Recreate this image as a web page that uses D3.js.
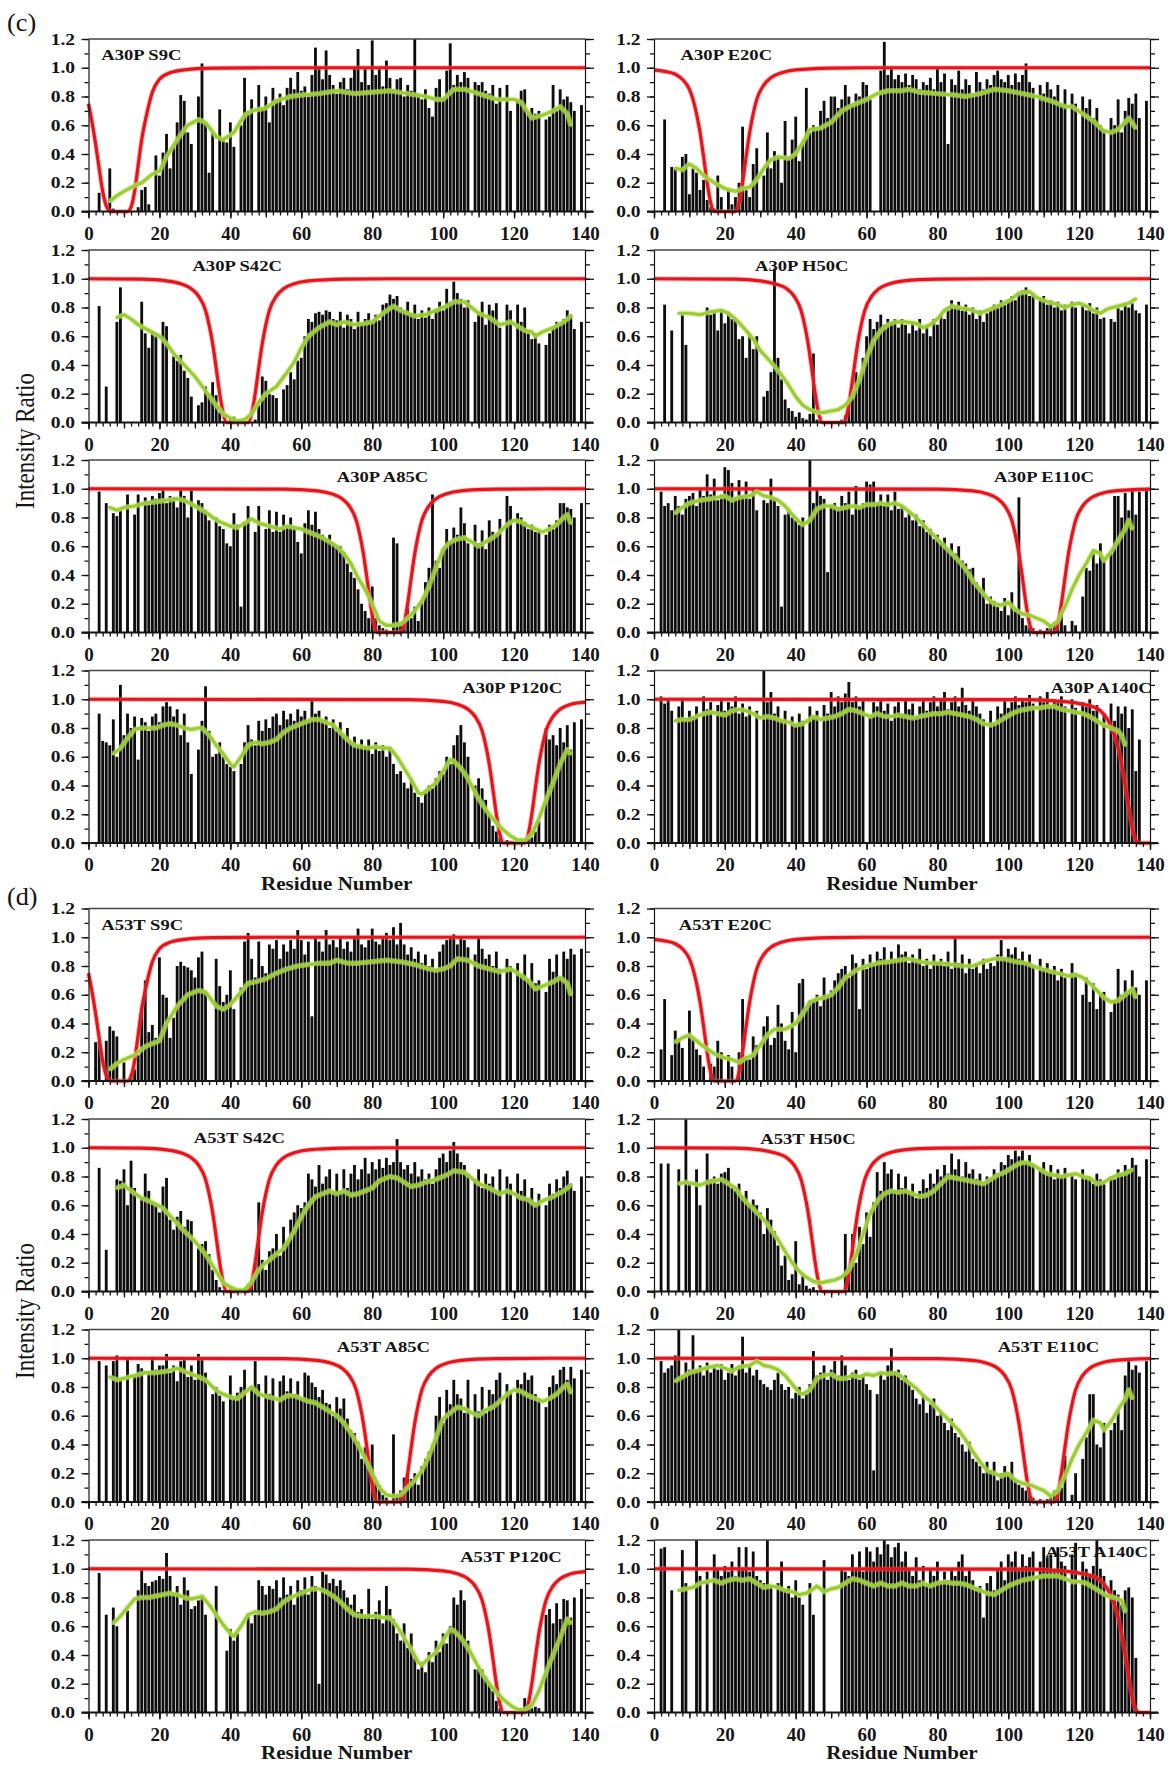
<!DOCTYPE html>
<html><head><meta charset="utf-8">
<script src="https://cdn.jsdelivr.net/npm/d3@7"></script>
<style>
body{margin:0;background:#fff}
svg{display:block;background:#fff}
text{font-family:"Liberation Serif","Times New Roman",serif}
</style>
</head><body>
<svg id="chart" width="1176" height="1765"></svg>
<script>
const N = null;

// ---------- tick labels ----------
const xTickLabels = [0, 20, 40, 60, 80, 100, 120, 140];
const yTickLabels = [0.0, 0.2, 0.4, 0.6, 0.8, 1.0, 1.2];

// ---------- panel titles ----------
const titlesC = ["A30P S9C","A30P E20C","A30P S42C","A30P H50C","A30P A85C","A30P E110C","A30P P120C","A30P A140C"];
const titlesD = ["A53T S9C","A53T E20C","A53T S42C","A53T H50C","A53T A85C","A53T E110C","A53T P120C","A53T A140C"];

// ---------- bar values, residues 1..140 (null = no bar) ----------
const barsA30P_S9C = [
N,N,0.13,N,N,0.30,0.02,N,N,N,
N,N,N,0.03,0.15,0.17,0.05,N,0.39,0.25,
0.41,0.54,0.30,0.45,0.62,0.81,0.77,0.55,0.47,N,
0.80,1.03,0.62,0.27,0.55,N,0.71,0.50,0.48,0.62,
0.45,N,0.60,0.93,0.70,0.78,N,0.88,0.72,0.80,
0.62,0.86,0.78,0.82,0.74,0.86,0.93,0.85,0.97,0.84,
0.87,0.80,0.95,1.14,1.00,0.92,1.12,0.95,0.88,0.82,
0.90,0.93,0.85,0.93,1.00,1.13,0.90,1.00,0.88,1.19,
0.95,1.00,0.87,1.05,0.93,0.85,0.92,0.93,0.80,0.88,
0.84,1.22,0.82,0.78,0.85,0.72,0.66,0.86,0.92,0.78,
0.98,1.17,0.88,0.95,0.90,0.97,0.93,N,0.90,0.88,
0.90,0.84,0.82,0.88,0.75,0.86,N,0.88,0.70,N,
0.78,0.84,0.85,0.68,0.72,0.68,0.70,N,0.64,0.66,
0.88,0.70,0.85,0.78,0.80,0.76,0.70,N,0.74,N];

const barsA30P_E20C = [
N,N,0.64,N,0.31,0.30,N,0.38,0.40,0.12,
0.30,0.27,0.15,0.22,0.08,0.03,0.02,0.25,0.10,N,
0.15,0.05,0.10,0.20,0.59,0.15,0.10,0.33,0.44,N,
0.25,0.55,0.30,0.42,0.38,0.20,0.63,0.38,0.50,0.66,
0.35,0.48,0.86,0.55,0.60,0.58,0.70,0.77,0.65,0.80,
0.80,0.72,0.78,0.88,0.80,0.75,0.82,0.80,0.90,0.88,
0.78,N,N,0.98,1.18,0.95,1.00,0.92,0.95,0.90,
0.96,0.88,0.95,0.92,0.85,0.90,0.88,0.93,0.85,1.00,
0.90,0.96,0.47,0.92,0.88,0.98,0.85,0.92,0.88,0.82,
0.97,0.90,0.85,0.92,0.88,0.95,0.98,0.92,0.90,0.95,
0.88,0.96,0.90,0.95,1.03,0.90,0.86,N,0.88,0.82,
0.90,0.85,0.80,0.88,0.75,0.85,N,0.82,0.75,N,
0.80,0.72,0.78,0.65,0.72,0.60,0.57,N,0.65,0.60,
0.78,0.55,0.70,0.79,0.75,0.82,0.65,N,0.77,N];

const barsA30P_S42C = [
N,N,0.81,N,0.25,N,N,0.70,0.94,N,
N,N,N,N,0.84,0.62,0.52,0.63,0.60,N,
0.70,0.67,N,0.46,0.43,0.47,0.36,0.31,0.18,N,
0.12,0.14,0.25,0.20,0.28,0.19,0.07,0.01,N,0.03,
0.04,N,N,0.01,N,N,0.02,0.12,0.32,0.29,
0.20,0.19,0.17,N,0.23,0.26,0.35,0.30,0.43,0.45,
0.60,0.72,0.70,0.76,0.77,0.75,0.78,0.77,0.72,0.71,
0.77,0.66,0.75,0.72,0.65,0.77,0.68,0.72,0.76,0.70,
0.75,0.71,0.82,0.83,0.89,0.86,0.88,0.80,0.78,0.84,
0.76,0.82,0.72,0.78,0.73,0.80,0.72,0.79,0.84,0.78,
0.93,0.84,0.98,0.90,0.86,0.80,0.85,N,0.70,0.77,
0.84,0.68,0.82,0.78,0.83,0.66,N,0.82,0.78,N,
0.82,0.70,0.80,0.62,0.58,0.62,0.55,N,0.54,0.62,
0.66,0.70,0.68,0.72,0.78,0.75,0.65,N,0.70,N];

const barsA30P_H50C = [
N,N,0.82,N,0.64,N,N,0.75,0.54,N,
N,N,N,N,0.80,0.75,0.78,0.64,0.79,0.69,
0.77,0.72,0.72,0.58,0.60,0.45,0.62,0.51,0.60,N,
0.18,0.22,0.35,1.07,0.45,0.30,0.16,0.10,0.08,0.04,
0.07,0.03,0.02,0.06,0.48,0.02,0.01,0.01,0.01,N,
0.01,0.01,0.02,0.05,0.12,0.20,0.35,0.30,0.45,0.60,
0.72,0.65,0.70,0.75,0.68,0.72,0.70,0.72,0.66,0.72,
0.68,0.62,0.70,0.64,0.72,0.62,0.68,0.60,0.72,0.68,
0.75,0.72,0.78,0.85,0.80,0.84,0.78,0.82,0.75,0.80,
0.72,0.78,0.70,0.76,0.78,0.82,0.80,0.85,0.82,0.84,
0.88,0.85,0.90,0.92,0.94,0.88,0.90,N,0.85,0.88,
0.82,0.85,0.80,0.84,0.78,0.82,N,0.84,0.80,N,
0.82,0.78,0.83,0.76,0.80,0.72,0.73,N,0.72,0.70,
0.80,0.78,0.82,0.80,0.83,0.78,0.76,N,0.82,N];

const barsA30P_A85C = [
N,N,0.98,N,0.90,N,0.83,0.81,0.85,N,
0.96,N,0.82,0.96,N,0.94,0.89,0.95,0.93,0.97,
0.99,0.90,0.95,0.94,0.87,0.99,0.95,0.80,0.99,N,
0.92,0.90,0.85,0.78,N,0.80,0.74,0.72,0.62,0.60,
0.83,0.75,0.18,0.77,0.88,N,0.70,0.88,N,0.72,
0.85,0.70,0.84,0.70,0.82,0.73,0.80,0.72,0.63,0.55,
0.76,0.85,0.75,0.84,0.72,0.68,0.65,0.68,0.62,0.59,
0.60,0.56,0.48,0.42,0.38,0.30,0.20,0.15,0.10,0.32,
0.10,0.05,0.03,0.02,N,0.66,0.62,0.05,0.08,0.17,
0.10,0.18,0.08,0.22,0.35,0.45,0.96,0.50,0.45,0.58,
0.72,0.63,0.73,0.68,0.87,0.76,0.62,N,0.75,0.62,
0.71,0.58,0.78,0.70,0.68,0.79,N,0.95,0.88,N,
0.83,0.80,0.77,0.72,0.75,0.70,0.70,N,0.68,0.75,
0.72,0.78,0.90,0.90,0.87,0.86,0.80,N,0.90,N];

const barsA30P_E110C = [
N,0.98,0.88,0.90,0.85,0.95,0.88,0.82,0.93,0.95,
0.97,0.88,1.00,0.95,1.10,0.96,1.07,0.92,0.96,1.15,
1.13,1.04,0.94,1.06,0.95,1.05,0.93,1.00,0.85,N,
0.92,0.90,1.07,0.93,0.88,0.18,0.82,0.85,0.80,0.78,
0.75,0.80,N,1.20,0.90,1.00,0.95,0.93,0.42,0.88,
0.90,0.85,0.95,0.90,0.98,0.82,1.02,0.88,0.90,1.05,
1.03,1.05,0.90,0.96,0.88,0.96,0.85,0.98,0.86,0.88,
0.80,0.84,0.78,0.82,0.74,0.78,0.70,0.72,0.65,0.68,
0.62,0.66,0.58,0.62,0.55,0.60,0.50,0.48,0.44,0.45,
0.35,0.30,0.38,0.20,0.25,0.22,0.18,0.15,0.24,0.12,
0.28,0.15,0.94,0.10,0.05,0.04,0.03,N,0.02,N,
0.03,0.05,0.06,0.04,0.20,0.05,N,0.08,0.05,N,
0.25,0.45,0.43,0.55,0.48,0.62,0.50,N,0.55,0.95,
0.95,0.80,0.97,0.85,1.00,0.82,0.98,N,1.00,N];

const barsA30P_P120C = [
N,N,0.90,0.71,0.70,0.68,0.86,0.60,1.10,0.75,
0.90,0.80,0.88,0.58,0.87,0.84,0.78,0.88,0.90,0.84,
0.95,0.98,0.95,0.88,0.93,0.75,0.90,0.70,0.48,N,
0.65,0.85,1.09,0.78,0.60,0.62,0.70,0.60,0.55,0.53,
0.50,N,0.55,0.70,0.82,0.72,0.68,0.85,0.78,0.86,
0.80,0.88,0.90,0.82,0.92,0.86,0.90,0.85,0.93,0.88,
0.92,0.84,0.99,0.90,0.92,0.85,0.88,0.80,0.86,0.78,
0.84,0.75,0.80,0.70,0.74,0.68,0.72,0.66,0.72,0.62,
0.70,0.64,0.68,0.60,0.66,0.55,0.48,0.50,0.42,0.38,
0.45,0.35,0.32,0.28,0.35,0.40,0.38,0.45,0.50,0.48,
0.60,0.55,0.68,0.75,0.82,0.70,0.60,N,0.40,0.45,
0.38,0.30,0.20,0.12,0.08,0.04,N,0.02,0.01,N,
0.01,0.03,0.02,0.05,0.04,0.08,0.15,N,0.80,0.72,
0.75,0.68,0.80,0.70,0.82,0.65,0.84,N,0.86,N];

const barsA30P_A140C = [
N,1.02,0.97,1.00,0.92,N,0.95,1.01,0.85,0.92,
0.88,0.95,N,1.02,0.93,0.98,N,0.96,1.00,0.92,
0.98,0.95,1.02,0.90,0.97,0.88,0.95,N,0.92,N,
1.20,0.98,1.05,0.90,0.95,0.85,0.92,N,0.88,0.82,
0.90,0.85,N,0.95,0.88,0.92,N,0.96,0.90,1.05,
0.95,1.02,0.98,1.04,1.12,0.98,1.02,0.95,1.00,N,
0.88,0.98,0.95,1.00,0.92,0.97,0.85,0.95,0.98,0.90,
1.00,0.93,0.97,0.88,0.95,1.00,0.92,0.98,1.02,0.95,
0.99,1.05,0.93,0.98,1.02,0.95,1.08,0.96,0.92,1.00,
0.95,0.90,0.86,N,0.92,0.82,0.95,0.90,1.00,0.94,
0.98,1.02,0.96,1.00,0.98,1.03,0.97,N,1.02,0.98,
1.05,0.96,1.00,0.98,1.02,0.95,N,1.00,0.94,N,
0.98,0.95,1.00,0.92,0.96,N,0.90,N,0.97,0.85,
0.95,0.90,0.95,0.80,0.93,0.50,0.72,N,N,N];

const barsA53T_S9C = [
N,0.27,0.28,N,0.28,0.38,0.35,0.31,N,0.13,
N,0.05,0.08,0.18,0.48,0.70,0.34,0.39,0.30,0.86,
0.60,0.58,0.30,0.44,0.80,0.83,0.80,0.79,0.77,0.72,
0.86,0.90,0.62,N,N,0.85,0.66,0.55,0.60,0.77,
0.50,N,0.65,0.97,1.03,0.85,0.72,0.97,0.80,0.75,
0.95,0.92,0.98,0.85,0.95,0.90,0.98,0.92,1.05,0.98,
0.88,0.97,0.45,1.00,0.97,0.90,1.05,0.95,0.98,0.93,
1.00,0.92,0.97,0.90,1.00,1.06,0.95,0.93,0.98,1.06,
0.97,0.95,1.00,1.03,0.98,1.07,0.95,1.10,0.95,0.88,
0.93,0.85,0.90,0.82,0.88,0.80,0.85,0.78,0.90,0.95,
0.98,1.00,1.02,0.95,1.00,0.98,0.93,N,0.88,1.00,
0.92,0.85,0.88,0.80,0.90,0.78,N,0.85,0.80,N,
0.82,0.73,0.88,0.70,0.82,0.68,0.70,N,0.62,0.85,
0.76,0.88,0.72,0.90,0.85,0.92,0.88,N,0.92,N];

const barsA53T_E20C = [
N,0.22,0.57,N,0.18,0.35,0.28,0.23,N,0.49,
0.30,0.22,0.18,0.10,N,0.12,0.10,0.28,0.20,N,
0.18,0.10,N,0.20,0.57,0.17,0.15,0.31,0.25,N,
0.38,0.45,0.25,0.30,0.53,0.40,0.28,0.22,0.48,0.20,
0.68,0.71,0.50,0.56,0.55,0.60,0.52,0.72,0.60,0.63,
0.70,0.75,0.78,0.80,0.72,0.88,0.82,0.50,0.85,0.78,
0.88,0.82,0.90,0.85,0.93,0.82,0.90,0.85,0.95,0.88,
0.90,0.82,0.88,0.85,0.92,0.80,0.85,0.78,0.88,0.82,
0.85,0.80,0.90,0.78,1.00,0.82,0.88,0.75,0.85,0.78,
0.82,0.75,0.85,0.78,0.82,0.80,0.88,0.98,0.85,0.92,
0.88,0.93,0.85,0.90,0.82,0.88,0.80,N,0.85,0.78,
0.82,0.75,0.80,0.70,0.78,0.72,N,0.82,0.75,N,
0.60,0.72,0.55,0.68,0.50,0.60,0.62,N,0.48,0.55,
0.78,0.60,0.70,0.62,0.77,0.65,0.60,N,0.70,N];

const barsA53T_S42C = [
N,N,0.86,N,0.29,N,N,0.78,0.77,0.85,
0.60,0.91,0.72,N,0.65,0.82,0.70,0.62,0.60,0.55,
0.73,0.79,0.50,0.43,0.52,0.56,0.45,0.50,0.49,N,
0.30,0.33,0.35,0.26,0.15,0.08,0.03,0.01,N,0.02,
0.01,N,N,0.02,0.05,0.08,0.20,0.62,0.22,0.15,
0.28,0.30,0.40,0.25,0.45,0.35,0.50,0.55,0.60,0.58,
0.62,0.82,0.78,0.73,0.88,0.75,0.80,0.85,0.68,0.82,
0.70,0.85,0.72,0.82,0.88,0.78,0.85,0.93,0.82,0.90,
0.85,0.92,0.86,0.93,0.88,0.90,1.06,0.90,0.85,0.88,
0.82,0.90,0.80,0.85,0.78,0.82,0.75,0.85,0.93,0.96,
0.90,0.98,1.04,0.96,0.90,0.88,0.82,N,0.78,0.85,
0.72,0.82,0.75,0.80,0.70,0.85,N,0.80,0.75,N,
0.82,0.70,0.78,0.65,0.72,0.62,0.68,N,0.60,0.75,
0.68,0.78,0.72,0.80,0.84,0.75,0.70,N,0.80,N];

const barsA53T_H50C = [
N,0.89,N,0.89,N,N,0.85,N,1.20,0.75,
N,0.85,0.60,N,0.96,0.78,0.80,0.75,0.82,0.83,
0.86,0.72,0.70,0.75,0.66,0.70,0.60,0.64,0.60,0.55,
0.40,0.58,0.50,0.42,0.32,0.18,0.25,0.08,0.12,0.35,
0.05,0.12,0.04,0.02,0.03,0.01,0.01,0.01,0.01,N,
0.01,0.01,0.01,0.40,0.10,0.40,0.20,0.45,0.33,0.55,
0.38,0.62,0.83,0.70,0.90,0.82,0.85,0.70,0.82,0.72,
0.80,0.68,0.75,0.65,0.70,0.78,0.72,0.82,0.75,0.85,
0.80,0.88,0.82,0.96,0.85,0.92,0.80,0.90,0.82,0.85,
0.78,0.82,0.75,0.80,0.78,0.85,0.82,0.90,0.88,0.95,
0.92,0.98,0.94,0.98,0.90,0.95,0.88,N,0.85,0.90,
0.82,0.88,0.78,0.85,0.80,0.86,N,0.82,0.78,N,
0.85,0.80,0.78,0.75,0.82,0.78,0.75,N,0.80,0.78,
0.85,0.82,0.88,0.85,0.93,0.88,0.80,N,0.92,N];

const barsA53T_A85C = [
N,N,0.98,N,0.95,N,0.98,1.02,0.85,N,
1.00,N,0.88,0.96,0.93,N,0.90,1.00,0.92,0.95,
0.95,1.03,0.90,0.95,0.84,0.98,1.00,0.87,0.95,0.85,
1.03,1.00,0.90,N,0.75,0.80,0.74,0.70,N,0.88,
0.72,0.76,0.80,0.92,N,0.80,0.98,0.82,N,0.88,
0.75,0.86,N,0.84,0.88,0.77,0.86,0.75,0.84,0.72,
0.90,0.88,0.83,0.80,0.73,0.78,0.69,0.68,0.60,0.73,
0.65,0.72,0.58,0.50,0.48,0.42,0.30,0.38,0.24,0.40,
0.15,0.12,0.05,0.03,N,0.47,0.05,0.08,0.17,0.19,
0.16,0.20,0.12,0.25,0.30,0.35,0.40,0.60,0.73,0.55,
0.78,0.68,0.85,0.75,0.72,0.62,0.85,N,0.75,0.63,
0.80,0.62,0.78,0.75,0.85,0.90,N,0.82,0.76,N,
0.85,0.82,0.90,0.85,0.88,0.75,0.72,N,0.66,0.80,
0.88,0.82,0.92,0.94,0.85,0.94,0.86,N,0.92,N];

const barsA53T_E110C = [
N,0.98,0.90,0.93,0.95,1.02,1.20,0.88,0.97,0.92,
1.16,0.92,0.95,0.88,0.97,0.90,0.95,0.92,0.96,0.85,
0.90,0.96,0.88,0.93,1.15,0.90,0.95,0.88,0.92,0.85,
0.82,0.80,0.78,0.85,0.90,0.82,0.78,0.80,0.72,0.76,
0.80,0.72,0.75,0.82,1.05,0.88,0.90,0.95,0.85,0.92,
0.98,0.88,1.02,0.95,0.85,0.90,0.92,0.85,0.88,0.82,
0.78,0.22,0.75,0.90,0.85,0.95,1.07,0.90,0.92,0.85,
0.88,0.82,0.78,0.72,0.68,0.75,0.62,0.68,0.72,0.60,
0.62,0.55,0.50,0.58,0.48,0.45,0.40,0.35,0.42,0.30,
0.28,0.25,0.20,0.28,0.22,0.28,0.15,0.20,0.25,0.18,
0.28,0.15,0.12,0.10,0.08,0.05,0.03,N,0.02,N,
0.02,0.04,0.08,0.06,0.10,0.32,N,0.05,0.20,N,
0.30,0.45,0.75,0.75,0.40,0.38,0.55,N,0.50,0.55,
0.65,0.50,0.88,0.98,0.92,0.95,0.90,N,0.98,N];

const barsA53T_P120C = [
N,N,0.97,N,0.68,N,0.73,0.60,N,N,
0.71,N,N,0.85,1.00,0.90,0.88,0.91,0.92,0.95,
0.93,1.11,0.95,0.82,0.88,0.75,0.94,0.85,0.72,0.74,
0.78,0.80,0.68,N,N,0.88,N,N,0.43,0.58,
0.50,0.55,N,N,0.68,0.62,0.68,0.92,0.88,0.82,
0.88,0.86,0.92,0.80,0.94,0.82,0.88,0.75,0.92,0.85,
0.94,0.82,0.95,0.88,0.20,0.98,0.96,0.90,0.93,0.88,
0.92,0.85,0.80,0.75,0.82,0.70,0.72,0.68,0.86,0.65,
0.70,0.78,0.62,0.88,0.72,0.65,0.55,0.50,0.62,0.45,
0.55,0.38,0.30,0.35,0.28,0.42,0.35,0.50,0.42,0.55,
0.48,0.60,0.80,0.75,0.85,0.78,0.50,N,0.30,0.32,
0.30,0.25,0.20,0.15,0.08,0.03,N,0.01,0.01,N,
0.02,0.03,0.10,0.05,0.03,0.04,0.03,N,0.68,0.72,
0.62,0.76,0.65,0.79,0.78,0.66,0.80,N,0.86,N];

const barsA53T_A140C = [
N,1.14,1.15,N,0.85,N,N,1.13,0.90,N,
N,1.20,0.95,N,0.98,N,1.10,1.00,0.95,1.02,
0.98,1.05,0.95,1.15,1.00,1.15,0.98,1.12,0.95,0.92,
0.90,1.20,0.88,N,0.90,1.05,0.85,0.88,0.80,0.92,
0.80,0.75,N,0.90,0.68,N,N,1.06,N,N,
N,N,1.00,0.98,0.95,1.10,1.00,1.12,0.98,1.15,
1.12,1.05,1.15,1.10,1.20,1.17,1.08,1.15,1.18,1.05,
1.12,1.00,0.95,1.08,0.92,1.02,0.88,1.00,0.95,1.05,
0.90,0.98,0.92,1.00,0.95,1.05,1.10,0.95,1.00,0.92,
0.85,0.88,0.66,0.90,0.95,0.85,1.00,1.05,0.92,1.10,
1.05,1.12,1.00,1.10,1.02,1.08,1.12,N,1.05,1.15,
1.08,1.10,1.00,1.15,1.05,1.02,N,1.10,1.18,N,
1.05,1.00,0.95,1.02,1.20,1.00,0.95,N,0.92,0.85,
0.82,0.75,0.85,0.87,0.80,0.38,N,N,N,N];

// ---------- smoothed (green) profiles: [residue, ratio] ----------
const greenA30P_S9C = [[6,0.07],[8,0.11],[10,0.14],[13,0.18],[15,0.2],[18,0.26],[20,0.28],[22,0.38],[25,0.5],[28,0.6],[31,0.64],[33,0.62],[36,0.52],[38,0.5],[41,0.55],[44,0.67],[46,0.7],[50,0.72],[53,0.77],[57,0.8],[60,0.81],[65,0.82],[70,0.84],[75,0.82],[80,0.83],[85,0.84],[90,0.82],[95,0.8],[98,0.78],[100,0.78],[103,0.85],[106,0.85],[110,0.82],[115,0.78],[120,0.78],[122,0.76],[125,0.65],[128,0.67],[131,0.7],[133,0.73],[135,0.68],[136,0.6]];
const greenA30P_E20C = [[6,0.3],[8,0.29],[10,0.33],[12,0.3],[14,0.25],[17,0.2],[20,0.16],[23,0.14],[25,0.16],[27,0.17],[29,0.22],[31,0.3],[33,0.36],[35,0.38],[38,0.37],[40,0.4],[42,0.48],[44,0.57],[47,0.58],[50,0.62],[53,0.7],[56,0.74],[60,0.78],[63,0.82],[66,0.84],[70,0.84],[72,0.85],[75,0.83],[80,0.82],[85,0.81],[88,0.8],[92,0.82],[96,0.85],[100,0.84],[104,0.82],[108,0.8],[112,0.77],[116,0.73],[118,0.73],[121,0.68],[124,0.63],[127,0.56],[129,0.55],[131,0.57],[134,0.65],[136,0.58]];
const greenA30P_S42C = [[8,0.73],[10,0.75],[12,0.72],[14,0.68],[17,0.64],[20,0.6],[22,0.55],[24,0.48],[27,0.4],[30,0.32],[33,0.22],[36,0.12],[38,0.06],[40,0.03],[42,0.01],[44,0.02],[46,0.06],[48,0.14],[50,0.2],[53,0.25],[56,0.35],[58,0.42],[60,0.52],[62,0.6],[65,0.66],[68,0.7],[70,0.68],[72,0.7],[75,0.68],[78,0.69],[80,0.7],[83,0.76],[86,0.81],[88,0.78],[90,0.76],[92,0.74],[95,0.75],[98,0.78],[101,0.81],[103,0.84],[106,0.84],[108,0.8],[110,0.76],[113,0.73],[116,0.68],[119,0.7],[121,0.67],[123,0.64],[125,0.63],[126,0.6],[128,0.63],[131,0.66],[134,0.7],[136,0.74]];
const greenA30P_H50C = [[7,0.76],[10,0.76],[13,0.75],[16,0.77],[19,0.78],[21,0.76],[23,0.72],[26,0.64],[28,0.58],[30,0.5],[33,0.42],[36,0.33],[38,0.26],[40,0.18],[42,0.12],[44,0.09],[46,0.07],[48,0.07],[50,0.08],[52,0.09],[54,0.12],[56,0.18],[58,0.3],[60,0.45],[62,0.57],[64,0.64],[66,0.68],[68,0.7],[71,0.7],[74,0.69],[76,0.66],[78,0.68],[80,0.72],[82,0.78],[84,0.81],[86,0.8],[88,0.79],[90,0.78],[92,0.76],[95,0.79],[98,0.82],[101,0.86],[103,0.9],[106,0.91],[108,0.87],[111,0.84],[114,0.82],[116,0.8],[118,0.82],[120,0.83],[122,0.81],[124,0.78],[126,0.76],[128,0.79],[131,0.81],[134,0.83],[136,0.86]];
const greenA30P_A85C = [[6,0.87],[8,0.85],[10,0.87],[13,0.88],[16,0.9],[19,0.91],[22,0.92],[25,0.93],[27,0.92],[30,0.88],[33,0.84],[35,0.8],[37,0.77],[40,0.74],[42,0.73],[44,0.76],[46,0.79],[48,0.76],[51,0.74],[54,0.72],[56,0.74],[58,0.73],[60,0.72],[62,0.7],[64,0.68],[66,0.66],[68,0.63],[70,0.6],[72,0.55],[74,0.48],[76,0.38],[78,0.3],[80,0.2],[82,0.08],[84,0.05],[86,0.05],[88,0.06],[90,0.1],[92,0.15],[94,0.22],[96,0.32],[98,0.45],[100,0.58],[102,0.63],[104,0.65],[106,0.66],[108,0.63],[110,0.6],[112,0.63],[114,0.66],[116,0.7],[118,0.75],[120,0.78],[122,0.77],[124,0.74],[126,0.72],[128,0.7],[130,0.72],[132,0.75],[134,0.8],[135,0.82],[136,0.76]];
const greenA30P_E110C = [[6,0.83],[8,0.87],[10,0.9],[13,0.92],[16,0.93],[18,0.94],[20,0.95],[22,0.92],[24,0.94],[27,0.95],[29,0.98],[31,0.95],[33,0.94],[35,0.92],[37,0.88],[39,0.82],[41,0.77],[42,0.75],[44,0.78],[46,0.86],[48,0.88],[50,0.88],[52,0.86],[54,0.87],[56,0.88],[58,0.87],[60,0.89],[62,0.89],[64,0.9],[66,0.89],[68,0.9],[70,0.88],[72,0.84],[74,0.8],[76,0.75],[78,0.7],[80,0.65],[82,0.6],[84,0.55],[86,0.5],[88,0.44],[90,0.36],[92,0.3],[94,0.24],[96,0.2],[98,0.19],[100,0.21],[102,0.16],[104,0.13],[106,0.12],[108,0.1],[110,0.08],[112,0.04],[114,0.08],[116,0.18],[118,0.3],[120,0.4],[122,0.48],[124,0.57],[126,0.55],[127,0.5],[129,0.56],[131,0.64],[133,0.72],[134,0.78],[135,0.72]];
const greenA30P_P120C = [[7,0.62],[9,0.66],[11,0.73],[13,0.79],[15,0.8],[17,0.8],[19,0.8],[21,0.82],[23,0.83],[25,0.82],[27,0.8],[29,0.79],[31,0.8],[32,0.8],[34,0.75],[36,0.68],[38,0.62],[40,0.55],[41,0.53],[43,0.6],[45,0.68],[47,0.7],[49,0.69],[51,0.7],[53,0.72],[55,0.77],[57,0.8],[59,0.82],[61,0.84],[63,0.86],[65,0.86],[67,0.84],[69,0.82],[71,0.77],[73,0.72],[75,0.68],[77,0.67],[79,0.66],[81,0.67],[83,0.66],[85,0.66],[87,0.6],[89,0.52],[91,0.44],[93,0.35],[94,0.34],[96,0.38],[98,0.42],[100,0.5],[102,0.58],[103,0.57],[105,0.52],[107,0.45],[109,0.35],[111,0.27],[113,0.2],[115,0.14],[117,0.09],[119,0.05],[121,0.02],[123,0.02],[125,0.06],[127,0.17],[129,0.3],[131,0.42],[133,0.55],[135,0.65],[136,0.62]];
const greenA30P_A140C = [[6,0.85],[8,0.86],[10,0.86],[12,0.88],[14,0.9],[16,0.91],[18,0.9],[20,0.89],[22,0.92],[24,0.93],[26,0.92],[28,0.9],[30,0.87],[32,0.88],[34,0.87],[36,0.85],[38,0.84],[40,0.82],[42,0.83],[44,0.86],[45,0.88],[47,0.86],[49,0.87],[51,0.88],[53,0.9],[55,0.93],[57,0.92],[59,0.9],[61,0.88],[63,0.9],[65,0.88],[67,0.88],[69,0.89],[71,0.88],[73,0.87],[75,0.88],[77,0.89],[79,0.9],[81,0.9],[83,0.91],[85,0.9],[87,0.89],[89,0.88],[91,0.86],[93,0.83],[95,0.82],[97,0.84],[99,0.87],[101,0.9],[103,0.92],[105,0.93],[107,0.94],[109,0.94],[111,0.95],[113,0.95],[115,0.93],[117,0.92],[119,0.91],[121,0.9],[123,0.88],[125,0.85],[127,0.82],[129,0.8],[131,0.78],[132,0.75],[133,0.68]];

const greenA53T_S9C = [[6,0.08],[8,0.12],[10,0.15],[13,0.18],[16,0.24],[18,0.26],[20,0.28],[22,0.4],[25,0.52],[28,0.6],[31,0.63],[33,0.62],[36,0.52],[38,0.5],[40,0.53],[43,0.62],[45,0.68],[47,0.69],[50,0.71],[53,0.75],[56,0.78],[59,0.8],[62,0.81],[65,0.82],[68,0.82],[70,0.84],[73,0.82],[76,0.82],[80,0.83],[84,0.84],[88,0.83],[92,0.81],[96,0.78],[98,0.77],[100,0.78],[102,0.8],[104,0.85],[107,0.84],[110,0.8],[113,0.78],[116,0.76],[119,0.78],[121,0.75],[124,0.7],[126,0.64],[129,0.67],[131,0.69],[133,0.72],[135,0.68],[136,0.6]];
const greenA53T_E20C = [[6,0.27],[8,0.3],[10,0.32],[12,0.28],[14,0.24],[17,0.19],[20,0.16],[22,0.15],[24,0.13],[26,0.16],[28,0.18],[30,0.25],[32,0.32],[34,0.36],[37,0.36],[40,0.4],[42,0.47],[44,0.55],[46,0.57],[48,0.58],[50,0.6],[52,0.65],[54,0.72],[57,0.77],[60,0.8],[63,0.82],[66,0.83],[69,0.84],[72,0.85],[75,0.83],[78,0.82],[81,0.82],[84,0.81],[87,0.8],[90,0.8],[93,0.83],[96,0.85],[99,0.85],[102,0.83],[105,0.82],[108,0.79],[111,0.77],[114,0.75],[117,0.73],[119,0.74],[121,0.72],[123,0.68],[125,0.63],[127,0.58],[129,0.55],[131,0.56],[133,0.6],[135,0.64],[136,0.58]];
const greenA53T_S42C = [[8,0.72],[10,0.74],[12,0.7],[15,0.65],[18,0.62],[21,0.58],[24,0.5],[27,0.42],[30,0.35],[33,0.26],[36,0.14],[38,0.06],[40,0.03],[42,0.01],[44,0.01],[46,0.07],[48,0.15],[50,0.2],[52,0.24],[55,0.3],[58,0.42],[60,0.52],[62,0.6],[64,0.66],[66,0.68],[68,0.7],[70,0.68],[72,0.7],[74,0.67],[76,0.68],[78,0.7],[80,0.72],[82,0.77],[85,0.8],[87,0.79],[89,0.76],[91,0.73],[93,0.74],[95,0.76],[98,0.78],[101,0.81],[103,0.84],[106,0.83],[108,0.79],[110,0.75],[113,0.72],[116,0.68],[118,0.7],[120,0.68],[122,0.65],[124,0.64],[126,0.6],[128,0.63],[131,0.66],[134,0.7],[136,0.74]];
const greenA53T_H50C = [[7,0.75],[9,0.76],[11,0.75],[13,0.74],[15,0.76],[17,0.77],[19,0.78],[21,0.75],[23,0.72],[25,0.65],[27,0.6],[29,0.55],[31,0.5],[33,0.43],[35,0.36],[37,0.28],[39,0.2],[41,0.14],[43,0.1],[45,0.07],[47,0.06],[49,0.07],[51,0.08],[53,0.1],[55,0.15],[57,0.25],[59,0.4],[61,0.54],[63,0.63],[65,0.68],[67,0.7],[69,0.69],[71,0.7],[73,0.68],[75,0.66],[77,0.67],[79,0.7],[81,0.75],[83,0.8],[85,0.79],[87,0.78],[89,0.77],[91,0.76],[93,0.75],[95,0.78],[97,0.81],[99,0.83],[101,0.86],[103,0.89],[105,0.9],[107,0.88],[109,0.85],[111,0.82],[113,0.81],[115,0.8],[117,0.81],[119,0.82],[121,0.8],[123,0.79],[125,0.75],[127,0.76],[129,0.79],[131,0.81],[133,0.82],[135,0.85]];
const greenA53T_A85C = [[6,0.87],[8,0.85],[10,0.86],[13,0.88],[16,0.9],[19,0.9],[22,0.91],[25,0.93],[27,0.91],[30,0.88],[33,0.85],[35,0.8],[37,0.76],[40,0.73],[42,0.72],[44,0.76],[46,0.8],[48,0.75],[51,0.73],[54,0.71],[56,0.74],[58,0.74],[60,0.72],[62,0.7],[64,0.69],[66,0.66],[68,0.63],[70,0.6],[72,0.55],[74,0.48],[76,0.4],[78,0.3],[80,0.2],[82,0.1],[84,0.05],[86,0.04],[88,0.05],[90,0.1],[92,0.15],[94,0.22],[96,0.32],[98,0.45],[100,0.58],[102,0.62],[104,0.66],[106,0.65],[108,0.62],[110,0.6],[112,0.64],[114,0.66],[116,0.7],[118,0.75],[120,0.78],[122,0.77],[124,0.74],[126,0.72],[128,0.7],[130,0.72],[132,0.75],[134,0.8],[135,0.82],[136,0.76]];
const greenA53T_E110C = [[6,0.84],[8,0.87],[10,0.9],[13,0.92],[16,0.94],[18,0.95],[20,0.93],[22,0.91],[24,0.94],[27,0.95],[29,0.98],[31,0.95],[33,0.94],[35,0.92],[37,0.88],[39,0.82],[41,0.76],[42,0.75],[44,0.78],[46,0.86],[48,0.88],[50,0.89],[52,0.86],[54,0.86],[56,0.88],[58,0.87],[60,0.89],[62,0.88],[64,0.9],[66,0.89],[68,0.9],[70,0.87],[72,0.83],[74,0.79],[76,0.74],[78,0.7],[80,0.65],[82,0.6],[84,0.55],[86,0.5],[88,0.43],[90,0.35],[92,0.28],[94,0.22],[96,0.2],[98,0.18],[100,0.2],[102,0.15],[104,0.13],[106,0.12],[108,0.1],[110,0.08],[112,0.04],[114,0.08],[116,0.18],[118,0.3],[120,0.4],[122,0.48],[124,0.57],[126,0.55],[127,0.5],[129,0.56],[131,0.64],[133,0.72],[134,0.78],[135,0.72]];
const greenA53T_P120C = [[7,0.62],[9,0.67],[11,0.73],[13,0.79],[15,0.8],[17,0.8],[19,0.81],[21,0.82],[23,0.83],[25,0.82],[27,0.8],[29,0.79],[31,0.8],[32,0.81],[34,0.75],[36,0.68],[38,0.61],[40,0.55],[41,0.53],[43,0.6],[45,0.68],[47,0.7],[49,0.69],[51,0.7],[53,0.72],[55,0.77],[57,0.8],[59,0.82],[61,0.84],[63,0.86],[65,0.86],[67,0.84],[69,0.81],[71,0.77],[73,0.72],[75,0.68],[77,0.67],[79,0.67],[81,0.67],[83,0.66],[85,0.66],[87,0.6],[89,0.52],[91,0.44],[93,0.35],[94,0.33],[96,0.38],[98,0.42],[100,0.5],[102,0.58],[103,0.57],[105,0.52],[107,0.45],[109,0.36],[111,0.27],[113,0.2],[115,0.14],[117,0.09],[119,0.05],[121,0.02],[123,0.02],[125,0.05],[127,0.15],[129,0.28],[131,0.4],[133,0.52],[135,0.65],[136,0.62]];
const greenA53T_A140C = [[7,0.85],[9,0.86],[11,0.87],[13,0.9],[15,0.91],[17,0.92],[19,0.9],[21,0.92],[23,0.93],[25,0.92],[27,0.93],[29,0.9],[31,0.87],[33,0.88],[35,0.87],[37,0.85],[39,0.84],[41,0.82],[43,0.83],[45,0.86],[46,0.88],[48,0.84],[50,0.86],[52,0.87],[54,0.9],[56,0.93],[58,0.92],[60,0.9],[62,0.88],[64,0.9],[66,0.88],[68,0.88],[70,0.9],[72,0.88],[74,0.88],[76,0.9],[78,0.88],[80,0.9],[82,0.91],[84,0.9],[86,0.9],[88,0.89],[90,0.87],[92,0.85],[94,0.83],[96,0.82],[98,0.85],[100,0.88],[102,0.9],[104,0.92],[106,0.93],[108,0.94],[110,0.95],[112,0.95],[114,0.95],[116,0.93],[118,0.91],[120,0.91],[122,0.9],[124,0.87],[126,0.84],[128,0.81],[130,0.8],[132,0.78],[133,0.7]];

// ---------- theoretical (red) profiles: [residue, ratio] ----------
const redS9C = [[0,0.75],[1,0.62],[2,0.47],[3,0.3],[4,0.14],[5,0.04],[6,0.005],[7,0],[11,0],[12,0.03],[13,0.14],[14,0.32],[15,0.5],[16,0.63],[17,0.74],[18,0.83],[20,0.92],[23,0.965],[27,0.985],[35,0.997],[50,1],[140,1]];
const redE20C = [[0,0.985],[3,0.975],[6,0.955],[8,0.92],[10,0.85],[11,0.78],[12,0.68],[13,0.55],[14,0.38],[15,0.2],[16,0.06],[17,0],[23,0],[24,0.06],[25,0.2],[26,0.38],[27,0.55],[28,0.68],[29,0.78],[31,0.88],[33,0.93],[36,0.965],[40,0.985],[50,0.997],[60,1],[140,1]];
const redS42C = [[0,1],[15,0.997],[22,0.985],[26,0.965],[29,0.93],[31,0.88],[33,0.78],[34,0.68],[35,0.55],[36,0.38],[37,0.2],[38,0.06],[39,0],[45,0],[46,0.06],[47,0.2],[48,0.38],[49,0.55],[50,0.68],[51,0.78],[53,0.88],[55,0.93],[58,0.965],[62,0.985],[72,0.997],[85,1],[140,1]];
const redH50C = [[0,1],[23,0.997],[30,0.985],[34,0.965],[37.5,0.93],[39.5,0.88],[41.5,0.78],[42.5,0.68],[43.5,0.55],[44.5,0.38],[45.5,0.2],[46.5,0.06],[47.5,0],[53.5,0],[54.5,0.06],[55.5,0.2],[56.5,0.38],[57.5,0.55],[58.5,0.68],[59.5,0.78],[61.5,0.88],[63.5,0.93],[66.5,0.965],[70.5,0.985],[80,0.997],[95,1],[140,1]];
const redA85C = [[0,1],[55,0.997],[64.5,0.985],[68.5,0.965],[71.5,0.93],[73.5,0.88],[75.5,0.78],[76.5,0.68],[77.5,0.55],[78.5,0.38],[79.5,0.2],[80.5,0.06],[81.5,0],[88,0],[89,0.06],[90,0.2],[91,0.38],[92,0.55],[93,0.68],[94,0.78],[96,0.88],[98,0.93],[101,0.965],[105,0.985],[115,0.997],[130,1],[140,1]];
const redE110C = [[0,1],[80,0.997],[90,0.985],[94,0.965],[97,0.93],[99,0.88],[101,0.78],[102,0.68],[103,0.55],[104,0.38],[105,0.2],[106,0.06],[107,0],[113,0],[114,0.06],[115,0.2],[116,0.38],[117,0.55],[118,0.68],[119,0.78],[121,0.88],[123,0.93],[126,0.965],[130,0.985],[140,0.997]];
const redP120C = [[0,1],[90,0.997],[100,0.985],[104,0.965],[107,0.93],[109,0.88],[111,0.78],[112,0.68],[113,0.55],[114,0.38],[115,0.2],[116,0.06],[117,0],[123,0],[124,0.06],[125,0.2],[126,0.38],[127,0.55],[128,0.68],[129,0.78],[131,0.88],[133,0.93],[136,0.965],[140,0.98]];
const redA140C = [[0,1],[105,0.997],[115,0.985],[120,0.97],[123,0.955],[126,0.92],[128,0.86],[130,0.75],[131,0.66],[132,0.55],[133,0.4],[134,0.25],[135,0.1],[136,0.02],[137,0],[140,0]];

// ---------- panel assembly ----------
const barSets = [barsA30P_S9C,barsA30P_E20C,barsA30P_S42C,barsA30P_H50C,barsA30P_A85C,barsA30P_E110C,barsA30P_P120C,barsA30P_A140C,
                 barsA53T_S9C,barsA53T_E20C,barsA53T_S42C,barsA53T_H50C,barsA53T_A85C,barsA53T_E110C,barsA53T_P120C,barsA53T_A140C];
const greenSets = [greenA30P_S9C,greenA30P_E20C,greenA30P_S42C,greenA30P_H50C,greenA30P_A85C,greenA30P_E110C,greenA30P_P120C,greenA30P_A140C,
                   greenA53T_S9C,greenA53T_E20C,greenA53T_S42C,greenA53T_H50C,greenA53T_A85C,greenA53T_E110C,greenA53T_P120C,greenA53T_A140C];
const redSets = [redS9C,redE20C,redS42C,redH50C,redA85C,redE110C,redP120C,redA140C];
const titles = titlesC.concat(titlesD);

// layout (positions only)
const colX = [[88.5,585],[654,1150]];
const rowTop = [39, 250, 460, 670.5, 908.5, 1119, 1329.5, 1540];
const plotH = 172.5;
const titlePos = [[3.6,20.5],[7.5,20.5],[29.3,21],[28.5,21],[70,22],[96,22],[105.4,22],[112,22],
                  [3.6,21],[7,21],[29.7,23.5],[30,25],[70,22.5],[97,22.5],[104.8,22],[110.5,17]];

const svg = d3.select("#chart");
const RED = "#e8141b", GREEN = "#9acd32", INK = "#151515";

function drawPanel(i) {
  const col = i % 2, row = Math.floor(i / 2);
  const [x0, x1] = colX[col];
  const top = rowTop[row], bot = top + plotH;
  const x = d3.scaleLinear().domain([0, 140]).range([x0, x1]);
  const y = d3.scaleLinear().domain([0, 1.2]).range([bot, top]).clamp(true);
  const g = svg.append("g");

  // bars
  const bw = (x(1) - x(0)) * 0.8;
  const bars = barSets[i].slice(0, 140).map((v, k) => ({r: k + 1, v})).filter(d => d.v !== null);
  g.append("g").selectAll("rect").data(bars).join("rect")
    .attr("x", d => x(d.r) - bw / 2).attr("width", bw)
    .attr("y", d => y(d.v)).attr("height", d => y(0) - y(d.v))
    .attr("fill", "#0d0d0d");

  const line = d3.line().x(d => x(d[0])).y(d => y(d[1]));
  // red theoretical curve
  const red = redSets[i % 8];
  g.append("path").datum(red).attr("d", line.curve(d3.curveMonotoneX))
    .attr("fill", "none").attr("stroke", "#f07070").attr("stroke-width", 5).attr("opacity", 0.45);
  g.append("path").datum(red).attr("d", line.curve(d3.curveMonotoneX))
    .attr("fill", "none").attr("stroke", RED).attr("stroke-width", 3.2);
  // green smoothed profile
  const gr = greenSets[i];
  g.append("path").datum(gr).attr("d", line.curve(d3.curveLinear))
    .attr("fill", "none").attr("stroke", "#c8e680").attr("stroke-width", 5.5).attr("opacity", 0.6)
    .attr("stroke-linejoin", "round");
  g.append("path").datum(gr).attr("d", line.curve(d3.curveLinear))
    .attr("fill", "none").attr("stroke", GREEN).attr("stroke-width", 3.2)
    .attr("stroke-linejoin", "round").attr("stroke-linecap", "round");

  // top border
  g.append("line").attr("x1", x0).attr("x2", x1).attr("y1", y(1.2)).attr("y2", y(1.2))
    .attr("stroke", "#444").attr("stroke-width", 1.6);

  // bottom axis: minor, mid, major
  const bottom = g.append("g").attr("transform", `translate(0,${bot})`);
  bottom.append("g").call(d3.axisBottom(x).tickValues(d3.range(0, 141, 2)).tickSize(4).tickSizeOuter(0).tickFormat(""))
    .call(a => a.select(".domain").attr("stroke", INK).attr("stroke-width", 2).attr("d", `M${x0 - 7},0H${x1 + 8}`));
  bottom.append("g").call(d3.axisBottom(x).tickValues(d3.range(0, 141, 10)).tickSize(6).tickFormat(""))
    .call(a => a.select(".domain").remove());
  bottom.append("g").call(d3.axisBottom(x).tickValues(xTickLabels).tickSize(7).tickPadding(8).tickFormat(d3.format("d")))
    .call(a => a.select(".domain").remove())
    .call(a => a.selectAll("text").attr("font-size", 19).attr("font-weight", "bold")
      .attr("fill", INK).attr("font-family", "Liberation Serif, serif"));
  bottom.selectAll("line").attr("stroke", INK).attr("stroke-width", 1.3);

  // left axis
  const left = g.append("g").attr("transform", `translate(${x0},0)`);
  left.append("g").call(d3.axisLeft(y).tickValues(d3.range(0, 12.1, 1).map(v => v / 10)).tickSize(4).tickSizeOuter(0).tickFormat(""))
    .call(a => a.select(".domain").attr("stroke", INK).attr("stroke-width", 1.2));
  left.append("g").call(d3.axisLeft(y).tickValues(yTickLabels).tickSize(7).tickPadding(4).tickFormat(d3.format(".1f")))
    .call(a => a.select(".domain").remove())
    .call(a => a.selectAll("text").attr("font-size", 16).attr("font-weight", "bold")
      .attr("fill", INK).attr("font-family", "Liberation Serif, serif")
      .attr("transform", "scale(1.22,1)"));
  left.selectAll("line").attr("stroke", INK).attr("stroke-width", 1.3);

  // right axis
  const right = g.append("g").attr("transform", `translate(${x1},0)`);
  right.append("g").call(d3.axisRight(y).tickValues(d3.range(0, 12.1, 1).map(v => v / 10)).tickSize(5).tickSizeOuter(0).tickFormat(""))
    .call(a => a.select(".domain").attr("stroke", INK).attr("stroke-width", 1.2));
  right.append("g").call(d3.axisRight(y).tickValues(yTickLabels).tickSize(9).tickFormat(""))
    .call(a => a.select(".domain").remove());
  right.selectAll("line").attr("stroke", INK).attr("stroke-width", 1.3);

  // title
  const [tr, tdy] = titlePos[i];
  g.append("text").attr("transform", `translate(${x(tr)},${top + tdy}) scale(1.33,1)`)
    .attr("font-size", 14).attr("font-weight", "bold").attr("fill", INK).text(titles[i]);
}

for (let i = 0; i < 16; i++) drawPanel(i);

// group letters
[["(c)", 31], ["(d)", 905]].forEach(([t, yb]) => {
  svg.append("text").attr("transform", `translate(7,${yb}) scale(1.05,1)`)
    .attr("font-size", 25).attr("fill", INK).text(t);
});

// axis titles
[890, 1759].forEach(yb => {
  colX.forEach(([a, b]) => {
    svg.append("text").attr("transform", `translate(${(a + b) / 2},${yb}) scale(1.17,1)`)
      .attr("text-anchor", "middle").attr("font-size", 18).attr("font-weight", "bold")
      .attr("fill", INK).text("Residue Number");
  });
});
[441, 1311].forEach(cy => {
  svg.append("text").attr("transform", `translate(34,${cy}) rotate(-90) scale(1,1.15)`)
    .attr("text-anchor", "middle").attr("font-size", 23).attr("fill", INK).text("Intensity Ratio");
});
</script>
</body></html>
